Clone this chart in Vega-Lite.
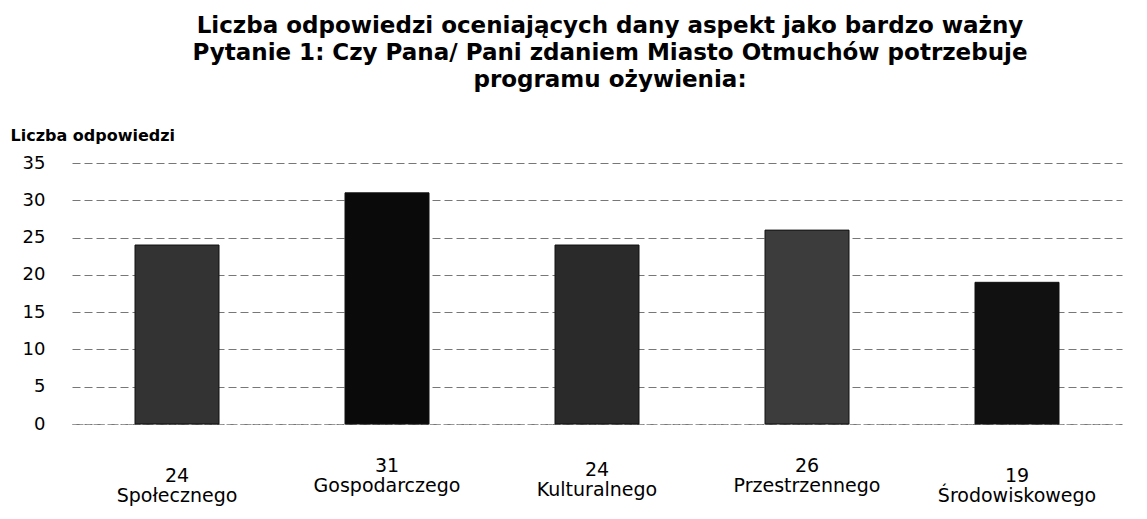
{
  "$schema": "https://vega.github.io/schema/vega-lite/v6.json",
  "width": 1050,
  "height": 261,
  "autosize": {"type": "none"},
  "padding": {"left": 72, "top": 163, "right": 25, "bottom": 95},
  "background": "white",
  "config": {"view": {"stroke": null}},
  "title": {
    "text": ["Liczba odpowiedzi oceniających dany aspekt jako bardzo ważny", "Pytanie 1: Czy Pana/ Pani zdaniem Miasto Otmuchów potrzebuje", "programu ożywienia:"],
    "font": "DejaVu Sans",
    "fontSize": 23,
    "fontWeight": "bold",
    "lineHeight": 27,
    "anchor": "middle",
    "dx": 13,
    "offset": 35,
    "color": "black"
  },
  "data": {
    "values": [
      {"kategoria": "Społecznego", "liczba": 24},
      {"kategoria": "Gospodarczego", "liczba": 31},
      {"kategoria": "Kulturalnego", "liczba": 24},
      {"kategoria": "Przestrzennego", "liczba": 26},
      {"kategoria": "Środowiskowego", "liczba": 19}
    ]
  },
  "transform": [{"calculate": "datum.liczba + '|' + datum.kategoria", "as": "etykieta"}],
  "mark": {"type": "bar", "stroke": "#111", "strokeWidth": 1},
  "encoding": {
    "x": {
      "field": "etykieta",
      "type": "nominal",
      "sort": null,
      "scale": {"paddingInner": 0.6, "paddingOuter": 0.3},
      "axis": {
        "title": null,
        "labelAngle": 0,
        "labelExpr": "split(datum.label, '|')",
        "labelFont": "DejaVu Sans",
        "labelFontSize": 19,
        "labelLineHeight": 20,
        "labelColor": "black",
        "ticks": false,
        "domainColor": "#999",
        "domainDash": [4, 3],
        "labelPadding": {
          "condition": [
            {"test": "indexof(datum.value, 'Gospodarczego') >= 0 || indexof(datum.value, 'Przestrzennego') >= 0", "value": 32},
            {"test": "indexof(datum.value, 'Kulturalnego') >= 0", "value": 36}
          ],
          "value": 42
        }
      }
    },
    "y": {
      "field": "liczba",
      "type": "quantitative",
      "scale": {"domain": [0, 35]},
      "axis": {
        "values": [0, 5, 10, 15, 20, 25, 30, 35],
        "title": "Liczba odpowiedzi",
        "titleAngle": 0,
        "titleAlign": "left",
        "titleBaseline": "alphabetic",
        "titleX": -62,
        "titleY": -23,
        "titleFont": "DejaVu Sans",
        "titleFontSize": 16,
        "titleFontWeight": "bold",
        "titleColor": "black",
        "labelFont": "DejaVu Sans",
        "labelFontSize": 18,
        "labelColor": "black",
        "labelPadding": 27,
        "ticks": false,
        "domain": false,
        "gridColor": "#777",
        "gridDash": [8, 4],
        "gridWidth": 1
      }
    },
    "color": {
      "field": "kategoria",
      "type": "nominal",
      "sort": null,
      "scale": {"range": ["#333333", "#0a0a0a", "#2a2a2a", "#3c3c3c", "#111111"]},
      "legend": null
    }
  }
}
